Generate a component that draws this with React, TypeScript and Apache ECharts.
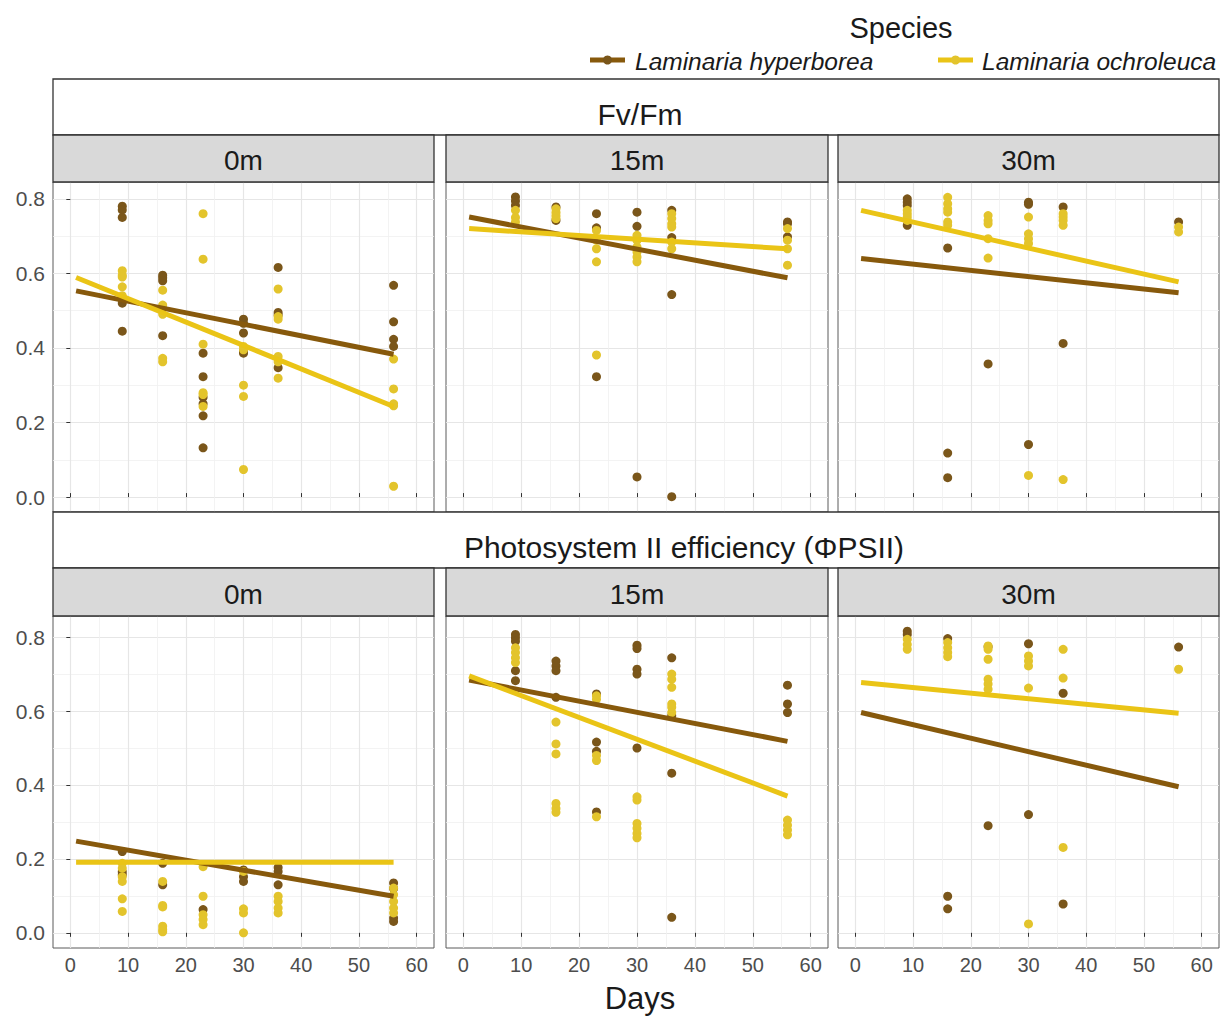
import React, { useEffect, useRef } from "react";
import * as echarts from "echarts";

// ---------------- DATA ----------------
const DAYS = [9, 16, 23, 30, 36, 56];
const FIT_DAYS = [1, 56];
const X_TICKS = [0, 10, 20, 30, 40, 50, 60];
const X_MINOR = [5, 15, 25, 35, 45, 55];
const Y_TICKS = [0, 0.2, 0.4, 0.6, 0.8];
const Y_MINOR = [0.1, 0.3, 0.5, 0.7];
const DEPTHS = ["0m", "15m", "30m"];
const PARAMS = ["Fv/Fm", "Photosystem II efficiency (ΦPSII)"];
const SPECIES = ["Laminaria hyperborea", "Laminaria ochroleuca"];
const X_TITLE = "Days";
const LEGEND_TITLE = "Species";

// Fv/Fm, 0m (values grouped by day in DAYS order)
const fvfm0Hyp = [
  [0.78, 0.77, 0.75, 0.53, 0.52, 0.445],
  [0.595, 0.588, 0.58, 0.433],
  [0.386, 0.323, 0.268, 0.25, 0.218, 0.132],
  [0.477, 0.466, 0.44, 0.39, 0.386],
  [0.616, 0.495, 0.488, 0.347],
  [0.568, 0.47, 0.423, 0.404],
];
const fvfm0Och = [
  [0.607, 0.595, 0.59, 0.564, 0.54],
  [0.555, 0.515, 0.49, 0.372, 0.363],
  [0.76, 0.638, 0.41, 0.28, 0.275, 0.243],
  [0.404, 0.395, 0.3, 0.27, 0.074],
  [0.558, 0.484, 0.477, 0.377, 0.363, 0.319],
  [0.37, 0.29, 0.25, 0.245, 0.029],
];
const fvfm0HypFit = [0.553, 0.383];
const fvfm0OchFit = [0.589, 0.243];

// Fv/Fm, 15m
const fvfm15Hyp = [
  [0.805, 0.794, 0.782],
  [0.778, 0.742],
  [0.76, 0.722, 0.323],
  [0.764, 0.726, 0.054],
  [0.769, 0.696, 0.543, 0.001],
  [0.738, 0.733, 0.698],
];
const fvfm15Och = [
  [0.769, 0.75, 0.738],
  [0.773, 0.764, 0.755, 0.747],
  [0.715, 0.689, 0.666, 0.631, 0.381],
  [0.702, 0.689, 0.671, 0.657, 0.644, 0.631],
  [0.76, 0.747, 0.733, 0.724, 0.684, 0.666],
  [0.72, 0.689, 0.666, 0.622],
];
const fvfm15HypFit = [0.751, 0.588];
const fvfm15OchFit = [0.72, 0.666];

// Fv/Fm, 30m
const fvfm30Hyp = [
  [0.8, 0.791, 0.782, 0.729],
  [0.668, 0.118, 0.052],
  [0.357],
  [0.791, 0.785, 0.141],
  [0.778, 0.412],
  [0.738],
];
const fvfm30Och = [
  [0.769, 0.76, 0.751, 0.742],
  [0.804, 0.787, 0.773, 0.764, 0.738, 0.729],
  [0.755, 0.742, 0.733, 0.693, 0.641],
  [0.751, 0.706, 0.693, 0.68, 0.058],
  [0.76, 0.751, 0.742, 0.729, 0.047],
  [0.724, 0.711],
];
const fvfm30HypFit = [0.64, 0.548];
const fvfm30OchFit = [0.769, 0.577];

// PSII, 0m
const psii0Hyp = [
  [0.22, 0.165, 0.157],
  [0.188, 0.13],
  [0.063],
  [0.17, 0.152, 0.139],
  [0.177, 0.166, 0.13],
  [0.135, 0.12, 0.04, 0.031],
];
const psii0Och = [
  [0.188, 0.175, 0.152, 0.139, 0.092, 0.058],
  [0.139, 0.074, 0.07, 0.018, 0.009, 0.003],
  [0.179, 0.099, 0.049, 0.036, 0.022],
  [0.166, 0.065, 0.054, 0.0],
  [0.099, 0.085, 0.067, 0.054],
  [0.121, 0.103, 0.085, 0.067, 0.054],
];
const psii0HypFit = [0.248, 0.099];
const psii0OchFit = [0.191, 0.191];

// PSII, 15m
const psii15Hyp = [
  [0.807, 0.798, 0.789, 0.709, 0.682],
  [0.735, 0.722, 0.709, 0.637],
  [0.646, 0.516, 0.491, 0.327],
  [0.778, 0.769, 0.713, 0.7, 0.5],
  [0.744, 0.587, 0.432, 0.042],
  [0.67, 0.619, 0.596],
];
const psii15Och = [
  [0.771, 0.758, 0.744, 0.731],
  [0.57, 0.511, 0.484, 0.35, 0.336, 0.326],
  [0.641, 0.632, 0.48, 0.466, 0.314],
  [0.368, 0.359, 0.296, 0.283, 0.269, 0.257],
  [0.7, 0.686, 0.664, 0.619, 0.61, 0.596],
  [0.305, 0.291, 0.278, 0.265],
];
const psii15HypFit = [0.684, 0.518];
const psii15OchFit = [0.695, 0.37];

// PSII, 30m
const psii30Hyp = [
  [0.816, 0.807],
  [0.796, 0.099, 0.065],
  [0.774, 0.29],
  [0.782, 0.32],
  [0.648, 0.078],
  [0.773],
];
const psii30Och = [
  [0.794, 0.78, 0.767],
  [0.785, 0.771, 0.758, 0.747],
  [0.776, 0.767, 0.74, 0.686, 0.673, 0.659],
  [0.749, 0.735, 0.722, 0.662, 0.024],
  [0.767, 0.689, 0.231],
  [0.713],
];
const psii30HypFit = [0.596, 0.395];
const psii30OchFit = [0.677, 0.594];

// ---------------- LAYOUT / STYLE ----------------
const FONT = "'Liberation Sans', Arial, Helvetica, sans-serif";
const BROWN_PT = "#7A561A";
const BROWN_LN = "#87590C";
const YELLOW_PT = "#E3C42C";
const YELLOW_LN = "#EAC416";
const TEXT_DARK = "#1A1A1A";
const TEXT_AXIS = "#4D4D4D";

const PANEL_LEFT = [53, 446, 838];
const PANEL_WIDTH = [381, 382, 381];
const ROW_TOP = [182, 616];
const ROW_HEIGHT = [330, 332];
const ROW_YRANGE = [
  [-0.04, 0.845],
  [-0.041, 0.857],
];
const X_RANGE = [-3, 63];

const PANELS = [
  [fvfm0Hyp, fvfm0Och, fvfm0HypFit, fvfm0OchFit],
  [fvfm15Hyp, fvfm15Och, fvfm15HypFit, fvfm15OchFit],
  [fvfm30Hyp, fvfm30Och, fvfm30HypFit, fvfm30OchFit],
  [psii0Hyp, psii0Och, psii0HypFit, psii0OchFit],
  [psii15Hyp, psii15Och, psii15HypFit, psii15OchFit],
  [psii30Hyp, psii30Och, psii30HypFit, psii30OchFit],
];

function toPoints(groups: number[][]) {
  const out: number[][] = [];
  groups.forEach((vals, i) => vals.forEach((v) => out.push([DAYS[i], v])));
  return out;
}
function toFit(fit: number[]) {
  return FIT_DAYS.map((d, i) => [d, fit[i]]);
}

function buildOption() {
  const grid: any[] = [];
  const xAxis: any[] = [];
  const yAxis: any[] = [];
  const series: any[] = [];
  const graphic: any[] = [];

  for (let g = 0; g < 6; g++) {
    const row = Math.floor(g / 3);
    const col = g % 3;
    grid.push({
      left: PANEL_LEFT[col],
      top: ROW_TOP[row],
      width: PANEL_WIDTH[col],
      height: ROW_HEIGHT[row],
      show: true,
      backgroundColor: "#FFFFFF",
      borderColor: "#5A5A5A",
      borderWidth: 1,
      containLabel: false,
    });
    // major x
    xAxis.push({
      type: "value",
      gridIndex: g,
      min: X_RANGE[0],
      max: X_RANGE[1],
      position: "bottom",
      axisLine: { show: false },
      axisTick: {
        show: true,
        customValues: X_TICKS,
        inside: row === 0,
        length: 4,
        lineStyle: { color: "#333333", width: 1 },
      },
      axisLabel: {
        show: row === 1,
        customValues: X_TICKS,
        fontSize: 20,
        fontFamily: FONT,
        color: TEXT_AXIS,
        margin: 7,
      },
      splitLine: { show: true, lineStyle: { color: "#E6E6E6", width: 1.2 } },
    });
    // minor x
    xAxis.push({
      type: "value",
      gridIndex: g,
      min: X_RANGE[0],
      max: X_RANGE[1],
      position: "top",
      axisLine: { show: false },
      axisTick: { show: false, customValues: X_MINOR },
      axisLabel: { show: false, customValues: X_MINOR },
      splitLine: { show: true, lineStyle: { color: "#F0F0F0", width: 0.8 } },
    });
    // major y
    yAxis.push({
      type: "value",
      gridIndex: g,
      min: ROW_YRANGE[row][0],
      max: ROW_YRANGE[row][1],
      position: "left",
      axisLine: { show: false },
      axisTick: {
        show: col === 0,
        customValues: Y_TICKS,
        length: 4,
        lineStyle: { color: "#333333", width: 1 },
      },
      axisLabel: {
        show: col === 0,
        customValues: Y_TICKS,
        formatter: (v: number) => v.toFixed(1),
        fontSize: 21,
        fontFamily: FONT,
        color: TEXT_AXIS,
        margin: 8,
      },
      splitLine: { show: true, lineStyle: { color: "#E6E6E6", width: 1.2 } },
    });
    // minor y
    yAxis.push({
      type: "value",
      gridIndex: g,
      min: ROW_YRANGE[row][0],
      max: ROW_YRANGE[row][1],
      position: "right",
      axisLine: { show: false },
      axisTick: { show: false, customValues: Y_MINOR },
      axisLabel: { show: false, customValues: Y_MINOR },
      splitLine: { show: true, lineStyle: { color: "#F0F0F0", width: 0.8 } },
    });

    const [hyp, och, hypFit, ochFit] = PANELS[g] as any;
    series.push({
      type: "scatter",
      name: SPECIES[0],
      xAxisIndex: 2 * g,
      yAxisIndex: 2 * g,
      data: toPoints(hyp),
      symbolSize: 9,
      itemStyle: { color: BROWN_PT, opacity: 1 },
      z: 2,
    });
    series.push({
      type: "scatter",
      name: SPECIES[1],
      xAxisIndex: 2 * g,
      yAxisIndex: 2 * g,
      data: toPoints(och),
      symbolSize: 9,
      itemStyle: { color: YELLOW_PT, opacity: 1 },
      z: 2,
    });
    series.push({
      type: "line",
      name: SPECIES[0] + " fit",
      xAxisIndex: 2 * g,
      yAxisIndex: 2 * g,
      data: toFit(hypFit),
      showSymbol: false,
      symbol: "none",
      lineStyle: { color: BROWN_LN, width: 5, cap: "butt" },
      z: 3,
    });
    series.push({
      type: "line",
      name: SPECIES[1] + " fit",
      xAxisIndex: 2 * g,
      yAxisIndex: 2 * g,
      data: toFit(ochFit),
      showSymbol: false,
      symbol: "none",
      lineStyle: { color: YELLOW_LN, width: 5, cap: "butt" },
      z: 4,
    });
  }

  // Strips
  const fullLeft = PANEL_LEFT[0];
  const fullRight = PANEL_LEFT[2] + PANEL_WIDTH[2];
  const bigStrips = [
    { y: 79, h: 56, text: PARAMS[0], cx: 640 },
    { y: 512, h: 56, text: PARAMS[1], cx: 684 },
  ];
  const smallStrips = [
    { y: 135, h: 47 },
    { y: 568, h: 48 },
  ];
  bigStrips.forEach((s) => {
    graphic.push({
      type: "rect",
      shape: { x: fullLeft, y: s.y, width: fullRight - fullLeft, height: s.h },
      style: { fill: "#FFFFFF", stroke: "#333333", lineWidth: 1.3 },
      z: 10,
    });
    graphic.push({
      type: "text",
      x: s.cx,
      y: s.y + s.h / 2 + 7,
      style: {
        text: s.text,
        fontSize: 30,
        fontFamily: FONT,
        fill: TEXT_DARK,
        textAlign: "center",
        textVerticalAlign: "middle",
      },
      z: 11,
    });
  });
  smallStrips.forEach((s) => {
    for (let c = 0; c < 3; c++) {
      graphic.push({
        type: "rect",
        shape: { x: PANEL_LEFT[c], y: s.y, width: PANEL_WIDTH[c], height: s.h },
        style: { fill: "#D9D9D9", stroke: "#333333", lineWidth: 1.3 },
        z: 10,
      });
      graphic.push({
        type: "text",
        x: PANEL_LEFT[c] + PANEL_WIDTH[c] / 2,
        y: s.y + s.h / 2 + 2,
        style: {
          text: DEPTHS[c],
          fontSize: 28,
          fontFamily: FONT,
          fill: TEXT_DARK,
          textAlign: "center",
          textVerticalAlign: "middle",
        },
        z: 11,
      });
    }
  });

  // Legend
  graphic.push({
    type: "text",
    x: 901,
    y: 28,
    style: {
      text: LEGEND_TITLE,
      fontSize: 29,
      fontFamily: FONT,
      fill: TEXT_DARK,
      textAlign: "center",
      textVerticalAlign: "middle",
    },
  });
  const legendItems = [
    { kx: 590, tx: 635, pt: BROWN_PT, ln: BROWN_LN, label: SPECIES[0] },
    { kx: 938, tx: 982, pt: YELLOW_PT, ln: YELLOW_LN, label: SPECIES[1] },
  ];
  legendItems.forEach((it) => {
    graphic.push({
      type: "line",
      shape: { x1: it.kx, y1: 60, x2: it.kx + 35, y2: 60 },
      style: { stroke: it.ln, lineWidth: 5 },
    });
    graphic.push({
      type: "circle",
      shape: { cx: it.kx + 17.5, cy: 60, r: 4.5 },
      style: { fill: it.pt },
    });
    graphic.push({
      type: "text",
      x: it.tx,
      y: 61,
      style: {
        text: it.label,
        fontSize: 24.5,
        fontStyle: "italic",
        fontFamily: FONT,
        fill: TEXT_DARK,
        textAlign: "left",
        textVerticalAlign: "middle",
      },
    });
  });

  // X axis title
  graphic.push({
    type: "text",
    x: 640,
    y: 998,
    style: {
      text: X_TITLE,
      fontSize: 31,
      fontFamily: FONT,
      fill: TEXT_DARK,
      textAlign: "center",
      textVerticalAlign: "middle",
    },
  });

  return {
    animation: false,
    backgroundColor: "#FFFFFF",
    grid,
    xAxis,
    yAxis,
    series,
    graphic,
  };
}

export default function App() {
  const ref = useRef<HTMLDivElement>(null);
  useEffect(() => {
    if (!ref.current) return;
    const chart = echarts.init(ref.current, undefined, { renderer: "svg" });
    chart.setOption(buildOption() as any);
    return () => {
      chart.dispose();
    };
  }, []);
  return (
    <div
      ref={ref}
      style={{ position: "fixed", left: 0, top: 0, width: 1223, height: 1017, background: "#fff" }}
    />
  );
}
